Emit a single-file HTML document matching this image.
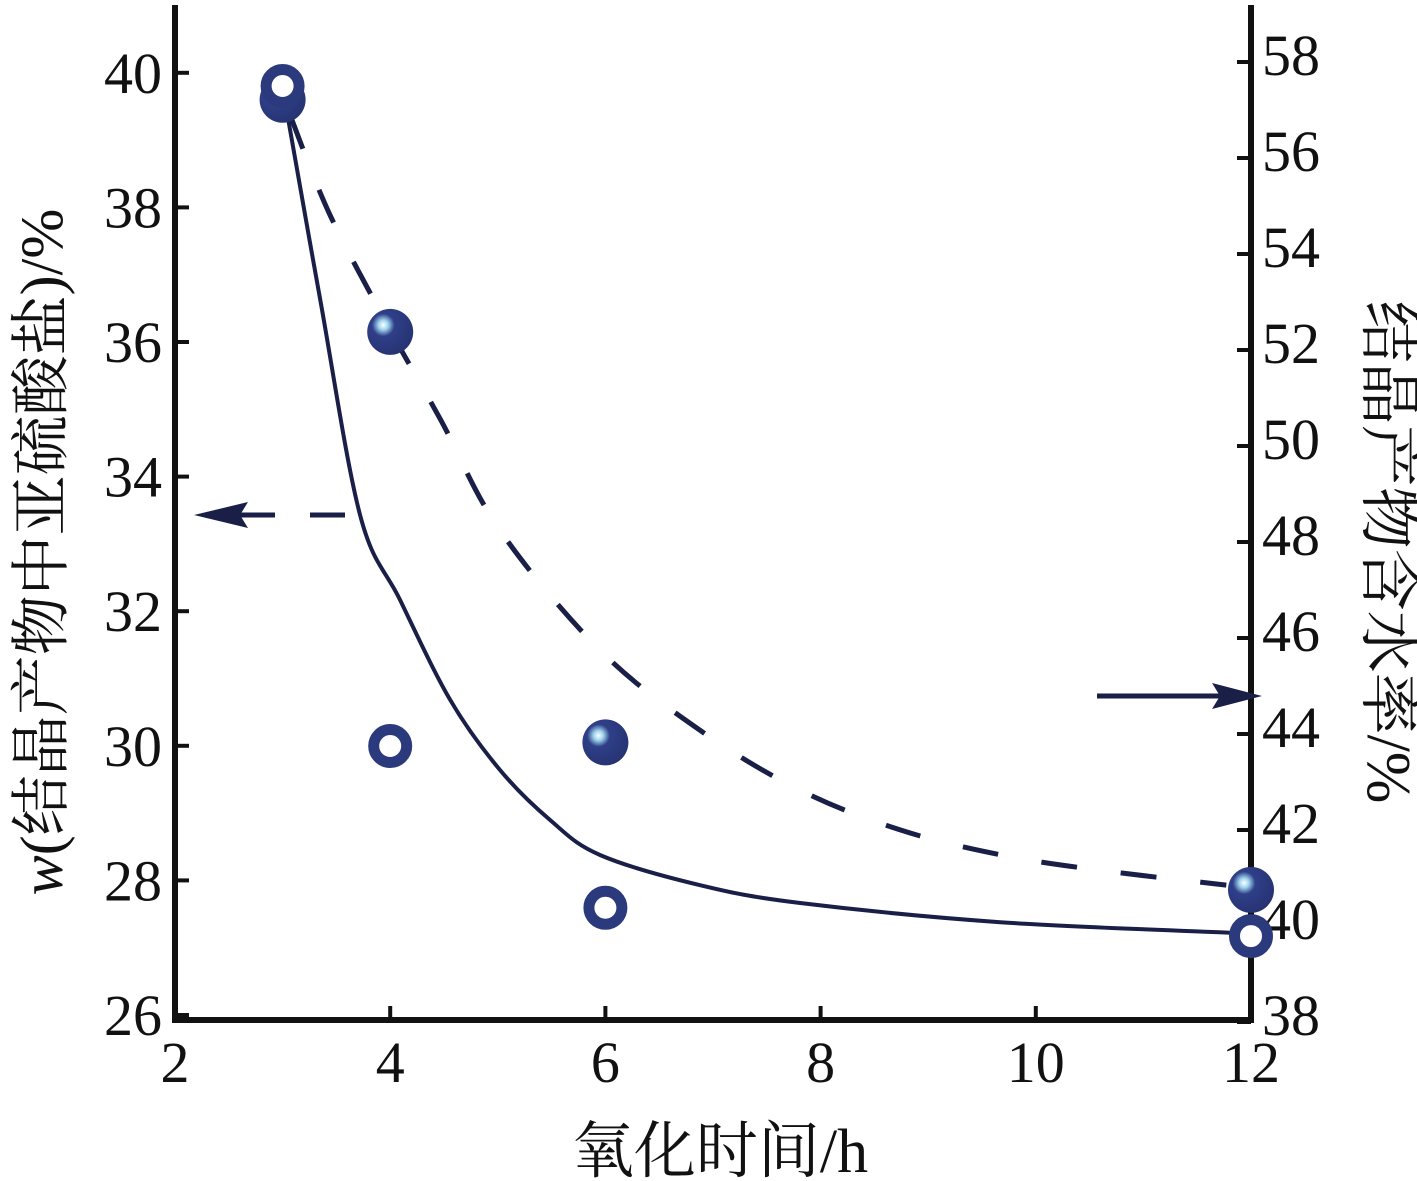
<!DOCTYPE html>
<html><head><meta charset="utf-8"><style>
body{margin:0;background:#fff}
svg{display:block}
text{font-family:"Liberation Serif","Noto Serif CJK SC",serif;fill:#111}
</style></head><body>
<svg id="chart" width="1417" height="1181" viewBox="0 0 1417 1181" xmlns="http://www.w3.org/2000/svg">
<defs>
<radialGradient id="ball" cx="0.35" cy="0.35" r="0.7">
<stop offset="0" stop-color="#ffffff"/><stop offset="0.15" stop-color="#9fd4ee"/><stop offset="0.35" stop-color="#2f3f88"/><stop offset="1" stop-color="#263372"/>
</radialGradient>
</defs>
<g id="axes"></g>
<g id="series"></g>
<text x="720" y="1172" font-size="62" text-anchor="middle" font-family="Liberation Serif, Noto Serif CJK SC, serif">氧化时间/h</text>
<text transform="translate(62,552) rotate(-90)" font-size="60" text-anchor="middle" font-family="Liberation Serif, Noto Serif CJK SC, serif"><tspan font-style="italic">w</tspan>(结晶产物中亚硫酸盐)/%</text>
<text transform="translate(1368,552) rotate(90)" font-size="62" text-anchor="middle" font-family="Liberation Serif, Noto Serif CJK SC, serif">结晶产物含水率/%</text>
</svg>
<script>
const xTicks=[2,4,6,8,10,12];
const leftTicks=[26,28,30,32,34,36,38,40];
const rightTicks=[38,40,42,44,46,48,50,52,54,56,58];
const filledX=[3,4,6,12];
const filledY=[39.6,36.15,30.05,27.86];
const hollowX=[3,4,6,12];
const hollowY=[57.5,43.75,40.38,39.79];
const dashX=[3.07,3.44,4.0,4.47,5.02,5.95,6.88,7.81,8.74,9.67,10.6,11.77];
const dashY=[39.37,37.89,36.18,34.84,33.2,31.42,30.23,29.34,28.75,28.38,28.15,27.93];
const solidX=[3.04,3.35,3.72,4.09,4.56,5.02,5.49,5.95,6.88,7.81,9.67,11.91];
const solidY=[56.96,53.04,48.56,46.8,44.7,43.25,42.2,41.48,40.85,40.48,40.08,39.85];

const NS="http://www.w3.org/2000/svg";
const X0=175,X1=1251,YB=1020,YT=5;
const sx=v=>X0+(v-2)*(X1-X0)/10;
const syL=v=>1015-(v-26)*67.3;
const syR=v=>1022-(v-38)*48;
const FF="Liberation Serif, Noto Serif CJK SC, serif";
function mk(tag,attrs,parent){const e=document.createElementNS(NS,tag);for(const k in attrs)e.setAttribute(k,attrs[k]);parent.appendChild(e);return e;}
const axes=document.getElementById('axes'),ser=document.getElementById('series');

let el=mk('path',{d:`M${X0},${YT}V${YB}H${X1}V${YT}`,fill:'none',stroke:'#111','stroke-width':6},axes);


xTicks.forEach(t=>{
  let l=mk('line',{x1:sx(t),x2:sx(t),y1:YB,y2:YB-14,stroke:'#111','stroke-width':4},axes);
  
  
  let tx=mk('text',{x:sx(t),y:1082,'font-size':58,'text-anchor':'middle','font-family':FF},axes);tx.textContent=t;
  
  
});
leftTicks.forEach(t=>{
  let l=mk('line',{x1:X0,x2:X0+14,y1:syL(t),y2:syL(t),stroke:'#111','stroke-width':4},axes);
  
  
  let tx=mk('text',{x:162,y:syL(t)+20,'font-size':58,'text-anchor':'end','font-family':FF},axes);tx.textContent=t;
  
  
});
rightTicks.forEach(t=>{
  let l=mk('line',{x1:X1-14,x2:X1,y1:syR(t),y2:syR(t),stroke:'#111','stroke-width':4},axes);
  
  
  let tx=mk('text',{x:1262,y:syR(t)+13,'font-size':58,'text-anchor':'start','font-family':FF},axes);tx.textContent=t;
  
  
});
function pathOf(xs,ys,sy){
  const p=xs.map((x,i)=>[sx(x),sy(ys[i])]);
  let d='M'+p[0][0].toFixed(1)+','+p[0][1].toFixed(1);
  for(let i=0;i<p.length-1;i++){
    const p0=p[i-1]||p[i],p1=p[i],p2=p[i+1],p3=p[i+2]||p[i+1];
    const c1=[p1[0]+(p2[0]-p0[0])/6,p1[1]+(p2[1]-p0[1])/6];
    const c2=[p2[0]-(p3[0]-p1[0])/6,p2[1]-(p3[1]-p1[1])/6];
    d+=`C${c1[0].toFixed(1)},${c1[1].toFixed(1)} ${c2[0].toFixed(1)},${c2[1].toFixed(1)} ${p2[0].toFixed(1)},${p2[1].toFixed(1)}`;
  }
  return d;
}
let sp=mk('path',{d:pathOf(solidX,solidY,syR),fill:'none',stroke:'#1a1f48','stroke-width':4,'stroke-linejoin':'round'},ser);


let dp=mk('path',{d:pathOf(dashX,dashY,syL),fill:'none',stroke:'#1a1f48','stroke-width':5,'stroke-dasharray':'36,44'},ser);


filledX.forEach((x,i)=>{
  let c=mk('circle',{cx:sx(x),cy:syL(filledY[i]),r:23,fill:'url(#ball)'},ser);
  
  
});
hollowX.forEach((x,i)=>{
  let c=mk('circle',{cx:sx(x),cy:syR(hollowY[i]),r:16.5,fill:'#fff',stroke:'#2b3a7c','stroke-width':11},ser);
  
  
});
let a1=mk('path',{d:'M345,515H310M275,515H240',stroke:'#1a1f48','stroke-width':5,fill:'none'},ser);


let h1=mk('path',{d:'M194,515L248,502L240,515L248,528Z',fill:'#1a1f48'},ser);


let a2=mk('path',{d:'M1097,696H1220',stroke:'#1a1f48','stroke-width':5,fill:'none'},ser);


let h2=mk('path',{d:'M1262,696L1212,683L1220,696L1212,709Z',fill:'#1a1f48'},ser);


</script>
</body></html>
